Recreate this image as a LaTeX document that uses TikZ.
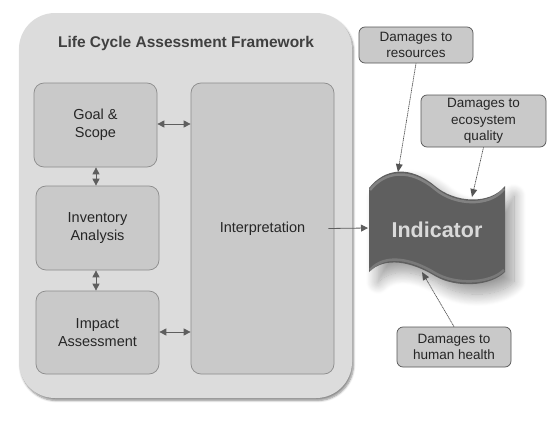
\documentclass[tikz,border=0pt]{standalone}
\usepackage{fontspec}
\setmainfont{Liberation Sans}
\usetikzlibrary{arrows.meta,shadows.blur,calc}
\definecolor{framebg}{HTML}{DCDCDC}
\definecolor{boxbg}{HTML}{C9C9C9}
\definecolor{boxline}{HTML}{8C8C8C}
\definecolor{dmgline}{HTML}{555555}
\definecolor{txt}{HTML}{262626}
\definecolor{arr}{HTML}{5E5E5E}
\definecolor{flag}{HTML}{5F5F5F}
\definecolor{flaghi}{HTML}{9A9A9A}
\definecolor{indtxt}{HTML}{DADADA}
\tikzset{
  stagebox/.style={draw=boxline, line width=0.7pt, fill=boxbg, rounded corners=10pt,
    align=center, text=txt, font=\fontsize{14.5}{17.5}\selectfont, inner sep=0pt},
  dmgbox/.style={draw=dmgline, line width=0.7pt, fill=boxbg, rounded corners=6pt,
    align=center, text=txt, font=\fontsize{13.5}{16.5}\selectfont, inner sep=0pt},
  dbl/.style={arr, line width=0.8pt, {Triangle[length=7pt,width=7pt]}-{Triangle[length=7pt,width=7pt]}},
  dmgarrow/.style={dmgline, line width=0.7pt, dash pattern=on 1.2pt off 0.6pt, -{Triangle[length=8pt,width=7pt,line width=0pt]}},
}
\begin{document}
\begin{tikzpicture}[x=1pt,y=-1pt]
\useasboundingbox (0,0) rectangle (547,423);
% outer frame
\path[fill=framebg, rounded corners=36pt,
  blur shadow={shadow xshift=1.5pt, shadow yshift=-2.5pt, shadow blur steps=6, shadow opacity=45}]
  (19,13) rectangle (352,398);
\node[font=\fontsize{15.5}{18}\selectfont\bfseries, text=black!75] (title) at (186,43) {Life Cycle Assessment Framework};

% stages
\node[stagebox, minimum width=123pt, minimum height=84pt] (goal) at (95.5,125) {Goal \&\\Scope};
\node[stagebox, minimum width=123pt, minimum height=84pt] (inv) at (97.5,228) {Inventory\\Analysis};
\node[stagebox, minimum width=123pt, minimum height=83pt] (imp) at (97.5,332.5) {Impact\\Assessment};
\node[stagebox, minimum width=143pt, minimum height=291pt] (interp) at (262.5,228.5) {Interpretation};

\draw[dbl] ([xshift=0.5pt]goal.south) -- ([xshift=0.5pt]goal.south |- inv.north);
\draw[dbl] ([xshift=-1.5pt]inv.south) -- ([xshift=-1.5pt]inv.south |- imp.north);
\draw[dbl] ([yshift=1pt]goal.east) -- ([yshift=1pt]goal.east -| interp.west);
\draw[dbl] ([yshift=0.5pt]imp.east) -- ([yshift=0.5pt]imp.east -| interp.west);

% indicator flag
\path[fill=flag, blur shadow={shadow xshift=9pt, shadow yshift=-10pt, shadow blur steps=14, shadow blur radius=12pt, shadow opacity=40}]
  (369,188) .. controls (385,168) and (410,165) .. (435,186)
  .. controls (455,203) and (490,205) .. (505,186)
  -- (505,272)
  .. controls (490,287) and (455,288) .. (435,276)
  .. controls (412,262) and (385,256) .. (369,272) -- cycle;
\draw[flaghi, line width=2.5pt, opacity=0.6]
  (370,190) .. controls (385,171) and (410,168) .. (435,189)
  .. controls (455,206) and (490,207) .. (504,189);
\draw[flaghi, line width=2.5pt, opacity=0.45]
  (504,270) .. controls (490,284) and (455,285) .. (435,273)
  .. controls (412,259) and (385,253) .. (370,270);
\node[font=\fontsize{21.5}{24}\selectfont\bfseries, text=indtxt] (ind) at (437,230) {Indicator};
\coordinate (indleft) at (368,228);
\coordinate (indtop1) at (398,172);
\coordinate (indtop2) at (472,197);
\coordinate (indbot) at (422,272);

\draw[arr, line width=0.8pt, -{Triangle[length=7pt,width=7pt]}] ([xshift=-6pt]interp.east) -- (indleft);

% damages
\node[dmgbox, minimum width=114pt, minimum height=36pt] (res) at (416,45) {Damages to\\resources};
\node[dmgbox, minimum width=125pt, minimum height=52pt] (eco) at (483.5,121) {Damages to\\ecosystem\\quality};
\node[dmgbox, minimum width=114pt, minimum height=40pt] (hum) at (454,347) {Damages to\\human health};

\draw[dmgarrow] (res.south) -- (indtop1);
\draw[dmgarrow] (eco.south) -- (indtop2);
\draw[dmgarrow] (hum.north) -- (indbot);
\end{tikzpicture}
\end{document}
